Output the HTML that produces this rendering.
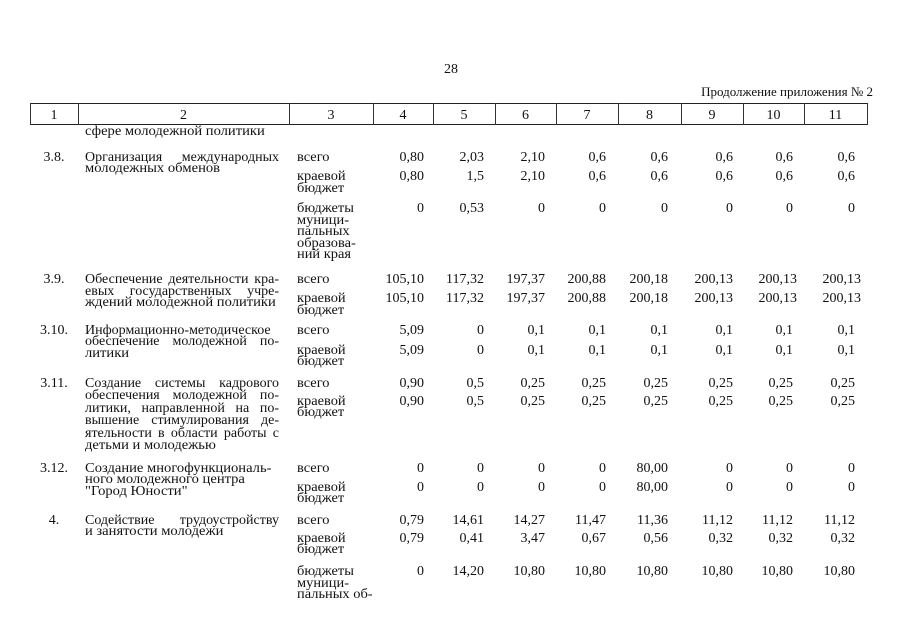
<!DOCTYPE html>
<html><head><meta charset="utf-8">
<style>
html,body{margin:0;padding:0}
body{width:905px;height:640px;background:#fff;position:relative;overflow:hidden;font-family:"Liberation Serif","Noto Serif CJK SC",serif;font-size:14px;line-height:11.5px;color:#111}
.a{position:absolute;white-space:nowrap}
.j{position:absolute;left:85px;width:194px;white-space:nowrap;text-align:justify;text-align-last:justify}
.l{position:absolute;left:85px;white-space:nowrap;transform:scaleX(1.04);transform-origin:left top}
.n{position:absolute;left:30px;width:48px;text-align:center;white-space:nowrap}
.t{position:absolute;left:297px;white-space:nowrap;transform:scaleX(1.03);transform-origin:left top}
.hl{position:absolute;height:1px;background:#222}
.vl{position:absolute;width:1px;background:#333;top:103px;height:22px}
.h{position:absolute;top:110px;text-align:center;white-space:nowrap}
.r{position:absolute;left:0;width:905px;height:12px}
.r span{position:absolute;top:0;white-space:nowrap}
.c4{right:481px}.c5{right:421px}.c6{right:360px}.c7{right:299px}
.c8{right:237px}.c9{right:172px}.c10{right:112px}.c11{right:50px}
</style></head><body>

<div class="a" style="left:444px;top:63.5px">28</div>
<div class="a" style="right:32px;top:85.5px;font-size:13px">Продолжение приложения № 2</div>

<!-- header table -->
<div class="hl" style="left:30px;width:838px;top:103px"></div>
<div class="hl" style="left:30px;width:838px;top:124px"></div>
<div class="vl" style="left:30px"></div>
<div class="vl" style="left:78px"></div>
<div class="vl" style="left:289px"></div>
<div class="vl" style="left:373px"></div>
<div class="vl" style="left:433px"></div>
<div class="vl" style="left:495px"></div>
<div class="vl" style="left:556px"></div>
<div class="vl" style="left:618px"></div>
<div class="vl" style="left:681px"></div>
<div class="vl" style="left:743px"></div>
<div class="vl" style="left:804px"></div>
<div class="vl" style="left:867px"></div>

<div class="h" style="left:30px;width:48px">1</div>
<div class="h" style="left:78px;width:211px">2</div>
<div class="h" style="left:289px;width:84px">3</div>
<div class="h" style="left:373px;width:60px">4</div>
<div class="h" style="left:433px;width:62px">5</div>
<div class="h" style="left:495px;width:61px">6</div>
<div class="h" style="left:556px;width:62px">7</div>
<div class="h" style="left:618px;width:63px">8</div>
<div class="h" style="left:681px;width:62px">9</div>
<div class="h" style="left:743px;width:61px">10</div>
<div class="h" style="left:804px;width:63px">11</div>

<div class="l" style="top:126px">сфере молодежной политики</div>

<!-- 3.8 -->
<div class="n" style="top:151.5px">3.8.</div>
<div class="j" style="top:151.5px">Организация международных</div>
<div class="l" style="top:163px">молодежных обменов</div>
<div class="t" style="top:151.5px">всего</div>
<div class="t" style="top:171px">краевой<br>бюджет</div>
<div class="t" style="top:203px;line-height:11.6px">бюджеты<br>муници-<br>пальных<br>образова-<br>ний края</div>
<div class="r" style="top:151.5px"><span class="c4">0,80</span><span class="c5">2,03</span><span class="c6">2,10</span><span class="c7">0,6</span><span class="c8">0,6</span><span class="c9">0,6</span><span class="c10">0,6</span><span class="c11">0,6</span></div>
<div class="r" style="top:171px"><span class="c4">0,80</span><span class="c5">1,5</span><span class="c6">2,10</span><span class="c7">0,6</span><span class="c8">0,6</span><span class="c9">0,6</span><span class="c10">0,6</span><span class="c11">0,6</span></div>
<div class="r" style="top:203px"><span class="c4">0</span><span class="c5">0,53</span><span class="c6">0</span><span class="c7">0</span><span class="c8">0</span><span class="c9">0</span><span class="c10">0</span><span class="c11">0</span></div>

<!-- 3.9 -->
<div class="n" style="top:274px">3.9.</div>
<div class="j" style="top:274px">Обеспечение деятельности кра-</div>
<div class="j" style="top:285.5px">евых государственных учре-</div>
<div class="l" style="top:297px">ждений молодежной политики</div>
<div class="t" style="top:274px">всего</div>
<div class="t" style="top:293px">краевой<br>бюджет</div>
<div class="r" style="top:274px"><span class="c4">105,10</span><span class="c5">117,32</span><span class="c6">197,37</span><span class="c7">200,88</span><span class="c8">200,18</span><span class="c9">200,13</span><span class="c10" style="right:108px">200,13</span><span class="c11" style="right:44px">200,13</span></div>
<div class="r" style="top:293px"><span class="c4">105,10</span><span class="c5">117,32</span><span class="c6">197,37</span><span class="c7">200,88</span><span class="c8">200,18</span><span class="c9">200,13</span><span class="c10" style="right:108px">200,13</span><span class="c11" style="right:44px">200,13</span></div>

<!-- 3.10 -->
<div class="n" style="top:324.5px">3.10.</div>
<div class="j" style="top:324.5px">Информационно-методическое</div>
<div class="j" style="top:336px">обеспечение молодежной по-</div>
<div class="l" style="top:347.5px">литики</div>
<div class="t" style="top:324.5px">всего</div>
<div class="t" style="top:344.5px">краевой<br>бюджет</div>
<div class="r" style="top:324.5px"><span class="c4">5,09</span><span class="c5">0</span><span class="c6">0,1</span><span class="c7">0,1</span><span class="c8">0,1</span><span class="c9">0,1</span><span class="c10">0,1</span><span class="c11">0,1</span></div>
<div class="r" style="top:344.5px"><span class="c4">5,09</span><span class="c5">0</span><span class="c6">0,1</span><span class="c7">0,1</span><span class="c8">0,1</span><span class="c9">0,1</span><span class="c10">0,1</span><span class="c11">0,1</span></div>

<!-- 3.11 -->
<div class="n" style="top:377.5px">3.11.</div>
<div class="j" style="top:377.5px">Создание системы кадрового</div>
<div class="j" style="top:390px">обеспечения молодежной по-</div>
<div class="j" style="top:402.5px">литики, направленной на по-</div>
<div class="j" style="top:415px">вышение стимулирования де-</div>
<div class="j" style="top:427.5px">ятельности в области работы с</div>
<div class="l" style="top:440px">детьми и молодежью</div>
<div class="t" style="top:377.5px">всего</div>
<div class="t" style="top:395.5px">краевой<br>бюджет</div>
<div class="r" style="top:377.5px"><span class="c4">0,90</span><span class="c5">0,5</span><span class="c6">0,25</span><span class="c7">0,25</span><span class="c8">0,25</span><span class="c9">0,25</span><span class="c10">0,25</span><span class="c11">0,25</span></div>
<div class="r" style="top:395.5px"><span class="c4">0,90</span><span class="c5">0,5</span><span class="c6">0,25</span><span class="c7">0,25</span><span class="c8">0,25</span><span class="c9">0,25</span><span class="c10">0,25</span><span class="c11">0,25</span></div>

<!-- 3.12 -->
<div class="n" style="top:462.5px">3.12.</div>
<div class="l" style="top:462.5px">Создание многофункциональ-</div>
<div class="l" style="top:474px">ного молодежного центра</div>
<div class="l" style="top:485.5px">"Город Юности"</div>
<div class="t" style="top:462.5px">всего</div>
<div class="t" style="top:481.5px">краевой<br>бюджет</div>
<div class="r" style="top:462.5px"><span class="c4">0</span><span class="c5">0</span><span class="c6">0</span><span class="c7">0</span><span class="c8">80,00</span><span class="c9">0</span><span class="c10">0</span><span class="c11">0</span></div>
<div class="r" style="top:481.5px"><span class="c4">0</span><span class="c5">0</span><span class="c6">0</span><span class="c7">0</span><span class="c8">80,00</span><span class="c9">0</span><span class="c10">0</span><span class="c11">0</span></div>

<!-- 4 -->
<div class="n" style="top:514.5px">4.</div>
<div class="j" style="top:514.5px">Содействие трудоустройству</div>
<div class="l" style="top:526px">и занятости молодежи</div>
<div class="t" style="top:514.5px">всего</div>
<div class="t" style="top:532.5px">краевой<br>бюджет</div>
<div class="t" style="top:566px;line-height:11.6px">бюджеты<br>муници-<br>пальных об-</div>
<div class="r" style="top:514.5px"><span class="c4">0,79</span><span class="c5">14,61</span><span class="c6">14,27</span><span class="c7">11,47</span><span class="c8">11,36</span><span class="c9">11,12</span><span class="c10">11,12</span><span class="c11">11,12</span></div>
<div class="r" style="top:532.5px"><span class="c4">0,79</span><span class="c5">0,41</span><span class="c6">3,47</span><span class="c7">0,67</span><span class="c8">0,56</span><span class="c9">0,32</span><span class="c10">0,32</span><span class="c11">0,32</span></div>
<div class="r" style="top:566px"><span class="c4">0</span><span class="c5">14,20</span><span class="c6">10,80</span><span class="c7">10,80</span><span class="c8">10,80</span><span class="c9">10,80</span><span class="c10">10,80</span><span class="c11">10,80</span></div>

</body></html>
